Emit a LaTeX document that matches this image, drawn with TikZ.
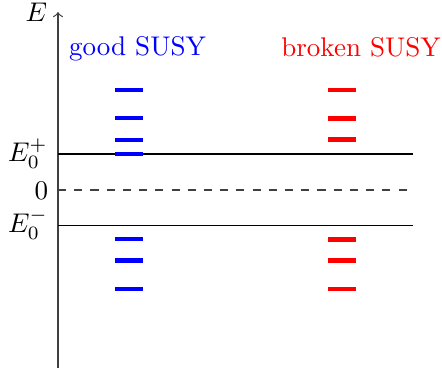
\documentclass[tikz,border=0pt]{standalone}
\begin{document}
\begin{tikzpicture}[x=0.37pt,y=-0.37pt,
  bluebar/.style={blue,line width=1.7pt},
  redbar/.style={red,line width=1.7pt},
  level/.style={black,line width=0.4pt},
  zerolevel/.style={black!75,line width=0.4pt,dashed},
  axisline/.style={black!75,line width=0.45pt,->},
  lbl/.style={inner sep=0pt,anchor=base}]
\useasboundingbox (0,0) rectangle (442,370);
% axis
\coordinate (axbot) at (58,368);
\coordinate (axtop) at (58,12);
\draw[axisline] (axbot) -- (axtop);
\node[lbl] (E) at (36.5,21.5) {$E$};
% levels
\coordinate (pl) at (58,154);  \coordinate (pr) at (413,154);
\coordinate (zl) at (58,190);  \coordinate (zr) at (413,190);
\coordinate (ml) at (58,225.5);\coordinate (mr) at (413,225.5);
\draw[level] (pl) -- (pr);
\draw[zerolevel] (zl) -- (zr);
\draw[level] (ml) -- (mr);
\node[inner sep=0pt,anchor=base west] (Ep) at (7.5,161.7) {$E_0^+$};
\node[lbl] (Z) at (41.5,199) {$0$};
\node[inner sep=0pt,anchor=base west] (Em) at (7.5,232.5) {$E_0^-$};
% titles
\node[lbl,blue] (good) at (137.5,55.5) {good SUSY};
\node[lbl,red] (broken) at (361,56) {broken SUSY};
% blue bars
\foreach \y in {90,118,140,154,239,260.5,289}
  \draw[bluebar] (115,\y) -- (143,\y);
% red bars
\foreach \y in {90,118.5,139.5,239.5,260.5,289}
  \draw[redbar] (328.5,\y) -- (356.5,\y);
\end{tikzpicture}
\end{document}
